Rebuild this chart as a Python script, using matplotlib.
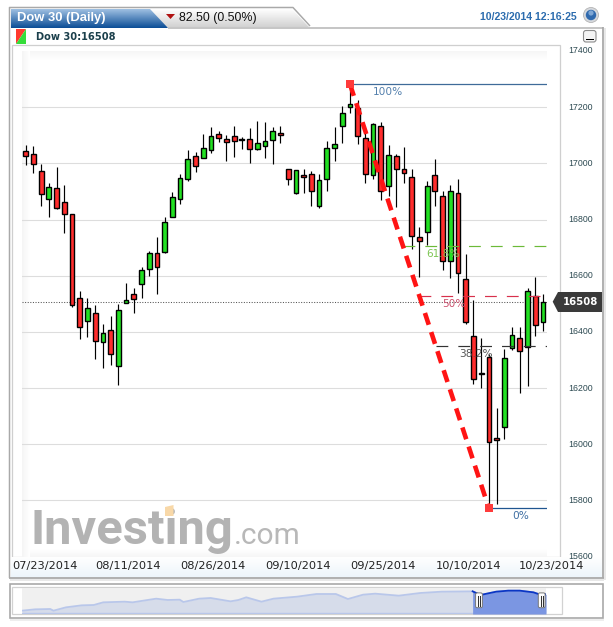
import numpy as np
import matplotlib
matplotlib.use("Agg")
import matplotlib.pyplot as plt
from matplotlib.patches import Polygon, Rectangle, FancyBboxPatch, Circle

# ---------- data ----------
highs = [17065,17062,16999,16929,16988,16923,16818,16544,16519,16496,16428,16457,16499,16573,16557,16631,16689,16739,
         16809,16897,16962,17046,17039,17104,17128,17114,17100,17133,17092,17127,17149,17148,17128,17133,16978,16975,
         16978,16973,16963,17078,17128,17204,17282,17225,17125,17142,17146,17064,17033,17057,16981,16772,16938,17014,
         16900,16924,16944,16677,16513,16377,16320,16128,16338,16416,16416,16556,16594,16534]
lows = [16994,16964,16848,16809,16836,16753,16490,16374,16383,16305,16273,16283,16210,16502,16468,16521,16599,16535,
        16680,16808,16854,16938,16969,17018,17035,17077,17008,17024,17052,17002,17047,17018,16999,17073,16922,16891,
        16893,16849,16842,16900,17008,17071,17178,17069,16929,16943,16869,16884,16846,16929,16694,16595,16708,16849,
        16619,16591,16537,16427,16216,16199,15772,15786,16020,16335,16181,16209,16385,16403]
opens = [17043,17032,16971,16872,16911,16861,16818,16519,16438,16466,16363,16406,16277,16502,16534,16569,16623,16682,
         16684,16810,16874,16945,17025,17020,17049,17103,17085,17096,17085,17085,17052,17063,17084,17107,16978,16893,
         16957,16961,16849,16943,17053,17131,17201,17198,17089,16957,17131,16921,17025,16978,16952,16736,16754,16957,
         16882,16651,16893,16587,16384,16254,16309,16021,16060,16341,16377,16345,16526,16434]
closes = [17025,16996,16890,16914,16842,16818,16495,16416,16484,16366,16395,16320,16477,16512,16516,16619,16680,16630,
          16791,16879,16946,17014,16992,17053,17096,17091,17075,17081,17082,17052,17071,17078,17114,17100,16945,16975,
          16952,16903,16939,17053,17068,17178,17210,17096,16961,17140,16900,17028,16978,16964,16740,16722,16918,16900,
          16651,16900,16608,16434,16231,16250,16007,16014,16306,16388,16331,16544,16423,16508]

y_ticks = [15600,15800,16000,16200,16400,16600,16800,17000,17200,17400]
date_labels = ["07/23/2014","08/11/2014","08/26/2014","09/10/2014","09/25/2014","10/10/2014","10/23/2014"]
date_positions = [2.55,13.25,24.26,35.3,46.3,57.3,68.05]

last_price = 16508
swing_high, swing_low = 17282, 15772
swing_high_idx, swing_low_idx = 42, 60
fib_names = ["61.8%","50%","38.2%"]
fib_levels = [16705,16527,16349]

nav_x = [0,2.5,5.4,6,8.4,11.4,13.7,15.5,19.6,21.1,25.6,27.8,30.1,30.8,33.8,36,39.8,41.3,42.8,45.7,48,52.5,56.2,59.9,
         62.2,65.1,67.4,71.9,76,80.1,86,87.5,90.5,92.8,95,97.6,99.1,100]
nav_y = [7160,7830,8000,7160,8850,9860,10030,11375,11710,11375,13230,12560,12725,11545,13230,13570,11880,12560,13910,
         11710,13230,14240,15590,15590,13060,15255,15760,14750,16100,16775,16940,15090,16775,17280,17280,16440,15090,15425]

W, H = 613, 627
fig = plt.figure(figsize=(W/100, H/100), dpi=100, facecolor="white")

def axpx(x0, y0, x1, y1, z):
    return fig.add_axes([x0/W, 1-y1/H, (x1-x0)/W, (y1-y0)/H], zorder=z)

# ---------- furniture (pixel coordinates) ----------
bg = axpx(0, 0, W, H, 0)
bg.set_xlim(0, W); bg.set_ylim(H, 0); bg.axis("off")

def hexrgb(c):
    return np.array(matplotlib.colors.to_rgb(c))

def grad(x0, x1, y0, y1, c0, c1, vertical=True, z=1, clip=None):
    t = np.linspace(0, 1, 64)
    a = hexrgb(c0)[None, :]*(1-t[:, None]) + hexrgb(c1)[None, :]*t[:, None]
    img = a[:, None, :] if vertical else a[None, :, :]
    im = bg.imshow(img, extent=(x0, x1, y1, y0), aspect="auto", zorder=z, interpolation="bilinear")
    if clip is not None:
        clip.set_transform(bg.transData)
        im.set_clip_path(clip)

def line(xs, ys, c="#a9a9a9", lw=1.0, z=5):
    bg.plot(xs, ys, color=c, lw=lw*0.72, zorder=z, solid_capstyle="butt")

# shadows
bg.add_patch(Rectangle((10, 578.5), 594, 2, fc="#e8e8e8", ec="none", zorder=1))
bg.add_patch(Rectangle((10, 618.5), 594, 2, fc="#eeeeee", ec="none", zorder=1))
bg.add_patch(Rectangle((603.5, 28), 2, 552, fc="#e8e8e8", ec="none", zorder=1))

# tabs
gray_tab = Polygon([(11, 9), (292, 9), (309, 27), (11, 27)], closed=True, fc="none", ec="none")
bg.add_patch(gray_tab)
grad(11, 310, 9, 28, "#ffffff", "#cfcfcf", clip=gray_tab)
blue_tab = Polygon([(11, 9), (150, 9), (168, 28), (11, 28)], closed=True, fc="none", ec="none")
bg.add_patch(blue_tab)
grad(11, 168, 9, 28, "#9fc0e2", "#0b4d96", z=2, clip=blue_tab)
line([9.5, 9.5, 293, 310], [578, 7.5, 7.5, 26], lw=1.5)
line([168, 603], [27.5, 27.5], c="#b4b4b4", lw=1.5)
line([603, 603], [27, 578], lw=1.8)
line([9, 603.7], [578, 578], lw=1.8)
bg.text(17, 18, "Dow 30 (Daily)", color="white", fontsize=9.4, family="Liberation Sans", fontweight="bold",
        va="center", ha="left", zorder=6)
bg.add_patch(Polygon([(166, 14), (175, 14), (170.5, 19)], closed=True, fc="#b01212", ec="none", zorder=6))
bg.text(179, 17.5, "82.50 (0.50%)", color="#111111", fontsize=8.95, family="Liberation Sans",
        va="center", ha="left", zorder=6)
bg.text(528, 17, "10/23/2014 12:16:25", color="#2c6cae", fontsize=7.6, family="Liberation Sans", fontweight="bold",
        va="center", ha="center", zorder=6)
bg.add_patch(Circle((591, 15), 7.5, fc="#d5d8dc", ec="#b5b5b5", lw=0.6, zorder=5))
bg.add_patch(Circle((591, 15), 5.2, fc="#2f69ad", ec="none", zorder=6))
bg.add_patch(Circle((591, 13), 2.6, fc="#7ea6d4", ec="none", zorder=7))

# minimise button
bg.add_patch(FancyBboxPatch((584, 31), 11.5, 10.5, boxstyle="round,pad=0.5,rounding_size=2.5",
                            fc="#f4f4f4", ec="#8c8c8c", lw=0.8, zorder=6))
bg.add_patch(Rectangle((586, 38.5), 8, 1.8, fc="black", ec="none", zorder=7))

# red/green icon
bg.add_patch(Polygon([(16, 29), (26, 29), (16, 44)], closed=True, fc="#ff3a2e", ec="none", zorder=6))
bg.add_patch(Polygon([(26, 29), (26, 44), (16, 44)], closed=True, fc="#35dd3a", ec="none", zorder=6))
bg.text(36.5, 36.5, "Dow 30:16508", color="#1b3f4b", fontsize=7.15, fontweight="bold",
        family="DejaVu Sans", va="center", ha="left", zorder=6)

# plot box and its soft gradient edges
bg.add_patch(Rectangle((12.3, 45), 547.7, 512.3, fc="white", ec="#cfcfcf", lw=0.9, zorder=2))
grad(22, 547, 51, 60, "#f6f6f6", "#ffffff", z=3)
grad(22, 547, 549, 557, "#ffffff", "#f6f6f6", z=3)
grad(22, 30, 51, 557, "#f5f5f5", "#ffffff", vertical=False, z=3)

# date band
grad(11, 602, 558, 577.5, "#ffffff", "#edf5fb", z=2)

# logo
bg.text(30, 543.5, "Investing", color="#b3b3b3", fontsize=35.2, family="Roboto", fontweight="bold",
        va="baseline", ha="left", zorder=4)
bg.add_patch(Polygon([(165, 507), (173.5, 505), (173.5, 516), (165, 516)], closed=True, fc="#f8d8a8",
                     ec="none", zorder=4.5))
bg.text(234, 543.5, ".com", color="#b8b8b8", fontsize=21.5, family="Roboto", fontweight="normal",
        va="baseline", ha="left", zorder=4)

# navigator frame
bg.add_patch(Rectangle((9.5, 584.3), 593.5, 34, fc="white", ec="#a9a9a9", lw=1.2, zorder=2))
bg.add_patch(Rectangle((12.3, 587.3), 549.4, 27, fc="white", ec="#d2d2d2", lw=0.9, zorder=2))

# ---------- main chart ----------
C_X0, C_X1, C_Y0, C_Y1 = 22, 547, 50.8, 557.3
ax = axpx(C_X0, C_Y0, C_X1, C_Y1, 2)
ax.patch.set_alpha(0)
for s in ax.spines.values():
    s.set_visible(False)
STEP = 7.72
ax.set_xlim((C_X0-25.7)/STEP, (C_X1-25.7)/STEP)
ax.set_ylim(15597.8, 17400.4)

idx = np.arange(len(highs))
o, c, hi, lo = map(np.array, (opens, closes, highs, lows))
ax.set_yticks(y_ticks)
ax.yaxis.tick_right()
ax.tick_params(axis="y", length=0, pad=15, labelsize=6.3, labelcolor="#2d4a52")
for t in ax.get_yticklabels():
    t.set_family("Liberation Sans")
    t.set_va("center")
ax.set_xticks([])
ax.grid(axis="y", color="#dddddd", lw=0.8, zorder=0)
ax.set_axisbelow(True)
grid_lines = ax.yaxis.get_gridlines()
grid_lines[0].set_visible(False)
grid_lines[-1].set_visible(False)

ax.axhline(last_price, color="#555555", lw=0.75, ls=(0, (1, 1.5)), zorder=1)

ax.vlines(idx, lo, hi, color="black", lw=0.85, zorder=3)
colors = np.where(c >= o, "#22e022", "#ff2d2d")
bottoms = np.minimum(o, c)
heights = np.abs(c-o)
ax.bar(idx, heights, bottom=bottoms, width=0.62, color=colors, edgecolor="black", lw=1.0, zorder=4)

# fibonacci retracement
def diag_x(level):
    f = (swing_high-level)/(swing_high-swing_low)
    return swing_high_idx + f*(swing_low_idx-swing_high_idx)

right = ax.get_xlim()[1]
ax.hlines(swing_high, swing_high_idx, right-0.05, color="#3f6b99", lw=0.9, zorder=5)
ax.hlines(swing_low, swing_low_idx, right-0.05, color="#1f5590", lw=0.9, zorder=5)
fib_colors = ["#6cba38", "#d8304c", "#333333"]
for lev, col in zip(fib_levels, fib_colors):
    ax.plot([diag_x(lev), right], [lev, lev], color=col, lw=0.85, ls=(0, (10, 8.5)), zorder=5)

labels = [("100%", 46.9, swing_high, "#5480ad"), ("61.8%", 54.0, fib_levels[0], "#7cc552"),
          ("50%", 55.5, fib_levels[1], "#cc5470"), ("38.2%", 58.3, fib_levels[2], "#555555"),
          ("0%", 64.1, swing_low, "#3f6fa3")]
for txt, xp, lev, col in labels:
    ax.annotate(txt, (xp, lev), xytext=(0, -5.7), textcoords="offset points", ha="center", va="center",
                color=col, fontsize=7.6, family="DejaVu Sans", zorder=6)

ax.plot([swing_high_idx, swing_low_idx], [swing_high, swing_low], color="#ff1414", lw=3.3,
        ls=(0, (2.7, 1.68)), dash_capstyle="butt", zorder=6)
ax.scatter([swing_high_idx, swing_low_idx], [swing_high, swing_low], marker="s", s=30, color="#ff3b3b", zorder=7,
           linewidths=0, clip_on=False)

# date labels
for p, s in zip(date_positions, date_labels):
    ax.text(p, -8.6/(C_Y1-C_Y0), s, transform=ax.get_xaxis_transform(), ha="center", va="center",
            fontsize=8.2, color="#222222", family="DejaVu Sans", clip_on=False)

# price tag
tag_y = 301.7
bg.add_patch(Polygon([(552.7, tag_y), (558, 292), (602, 292), (602, 312), (558, 312)], closed=True,
                     fc="#3a3a3a", ec="none", zorder=8))
bg.text(580, tag_y, f"{last_price}", color="white", fontsize=7.3, fontweight="bold", family="DejaVu Sans",
        ha="center", va="center", zorder=9)

# ---------- navigator ----------
nav = axpx(22, 588, 546, 614, 2)
nav.set_xlim(0, 100); nav.set_ylim(5475, 18630)
nav.set_xticks([]); nav.set_yticks([])
nav.set_facecolor("#f0f0f0")
for s in nav.spines.values():
    s.set_visible(False)
nx, ny = np.array(nav_x), np.array(nav_y)
m = nx >= 86
nav.fill_between(nx, 6000, ny, color="#d6dcea", lw=0)
nav.plot(nx, ny, color="#b9c7ea", lw=1.3)
nav.axhline(5850, color="#b9c7ea", lw=1)
nav.fill_between(nx[m], 5475, ny[m], color="#7b96e2", lw=0, zorder=3)
nav.plot(nx[m], ny[m], color="#0b36c4", lw=1.3, zorder=4)

for hx in (479, 541.7):
    bg_h = FancyBboxPatch((hx-3, 593.3), 6, 14, boxstyle="round,pad=0.4,rounding_size=1.6",
                          fc="white", ec="#777777", lw=0.7, transform=bg.transData, zorder=20, clip_on=False)
    fig.add_artist(bg_h)
    for dx in (-1.0, 1.0):
        fig.add_artist(plt.Line2D([hx+dx, hx+dx], [595.5, 605.5], color="#333333", lw=0.75,
                                  transform=bg.transData, zorder=21))

fig.savefig("out.png", dpi=100)
